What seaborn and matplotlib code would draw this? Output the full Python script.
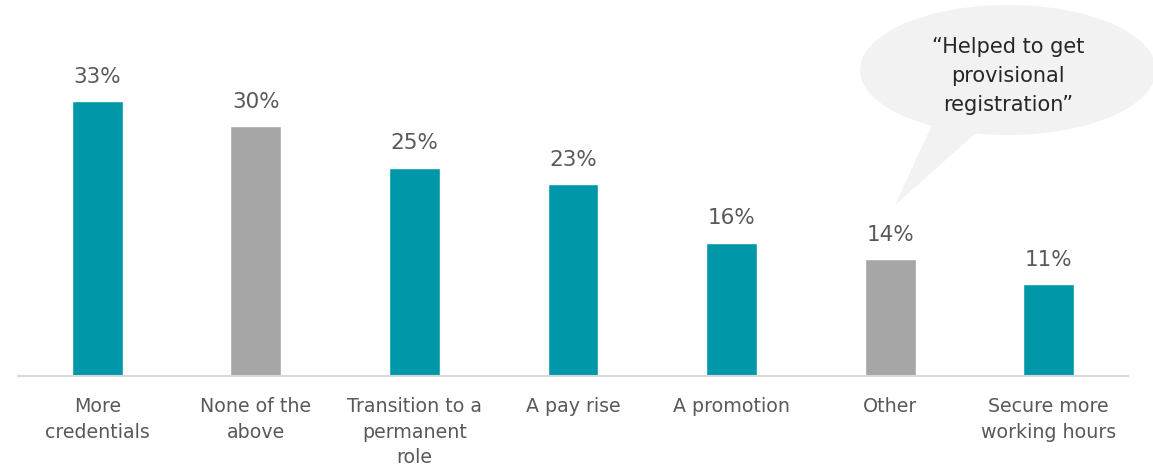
import matplotlib
matplotlib.use("Agg")
import matplotlib.pyplot as plt
import seaborn as sns
import pandas as pd
from matplotlib.patches import Ellipse, Polygon

categories = ["More\ncredentials", "None of the\nabove", "Transition to a\npermanent\nrole",
              "A pay rise", "A promotion", "Other", "Secure more\nworking hours"]
values = [33, 30, 25, 23, 16, 14, 11]
labels = ["33%", "30%", "25%", "23%", "16%", "14%", "11%"]
kinds = ["main", "neutral", "main", "main", "main", "neutral", "main"]
quote = "\u201cHelped to get\nprovisional\nregistration\u201d"

TEAL = "#0098A8"
GREY = "#A6A6A6"
TEXT = "#595959"

sns.set_style("white")
plt.rcParams["font.family"] = ["DejaVu Sans"]

W, H = 1153, 468
fig = plt.figure(figsize=(W / 100, H / 100), dpi=100)
ax = fig.add_axes([18 / W, 1 - 376 / H, (1128 - 18) / W, 376 / H])

df = pd.DataFrame({"cat": categories, "val": values, "kind": kinds})
sns.barplot(data=df, x="cat", y="val", hue="kind",
            palette={"main": TEAL, "neutral": GREY},
            width=0.32, dodge=False, legend=False, ax=ax, saturation=1)

ax.set_ylim(0, 376 / 8.33)
ax.set_xlim(-0.5, len(categories) - 0.5)
for i, (v, lab) in enumerate(zip(values, labels)):
    ax.annotate(lab, (i, v), xytext=(0, 10.5), textcoords="offset points",
                ha="center", va="bottom", fontsize=15.5, color=TEXT)

for s in ["top", "right", "left"]:
    ax.spines[s].set_visible(False)
ax.spines["bottom"].set_color("#D9D9D9")
ax.spines["bottom"].set_linewidth(1.5)
ax.set_yticks([])
ax.set_xlabel("")
ax.set_ylabel("")
ax.tick_params(axis="x", length=0, pad=15, labelsize=13.7, labelcolor=TEXT)
for t in ax.get_xticklabels():
    t.set_linespacing(1.45)
    t.set_va("top")

# speech bubble overlay in pixel coords
ov = fig.add_axes([0, 0, 1, 1], facecolor="none")
ov.set_xlim(0, W)
ov.set_ylim(H, 0)
ov.axis("off")
ov.add_patch(Polygon([(932, 125), (985, 125), (895, 205)], closed=True,
                     facecolor="#F2F2F2", edgecolor="none"))
ov.add_patch(Ellipse((1008, 70), 296, 130, facecolor="#F2F2F2", edgecolor="none"))
ov.text(1008, 76, quote, ha="center", va="center", fontsize=15,
        color="#262626", linespacing=1.55)

fig.savefig("out.png", dpi=100)
